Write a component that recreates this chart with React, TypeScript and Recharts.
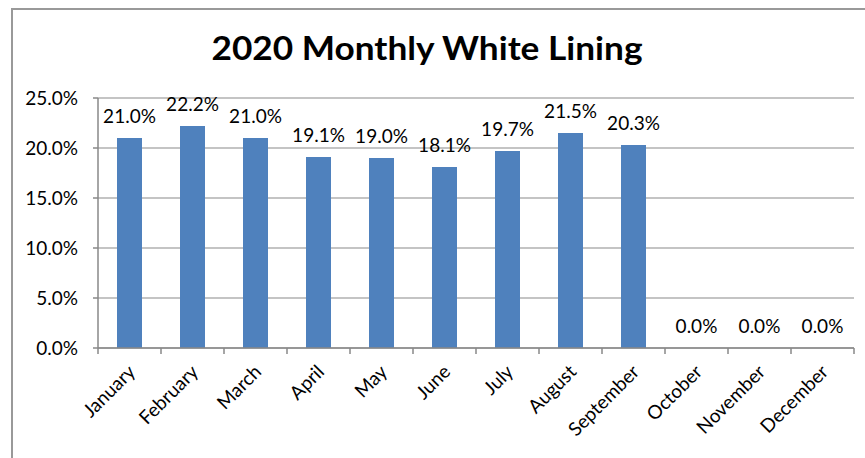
import React from 'react';
import { ComposedChart, Bar, Line, XAxis, YAxis, CartesianGrid, LabelList } from 'recharts';

const months = ['January', 'February', 'March', 'April', 'May', 'June', 'July', 'August', 'September', 'October', 'November', 'December'];
const whiteLining = [0.21, 0.222, 0.21, 0.191, 0.19, 0.181, 0.197, 0.215, 0.203, 0, 0, 0];
const yTicks = [0, 0.05, 0.1, 0.15, 0.2, 0.25];
const title = '2020 Monthly White Lining';

const data = months.map((m, i) => ({ month: m, value: whiteLining[i] }));

const FONT = 'Lato, "Open Sans", sans-serif';
const GRAY = '#898989';
const FS = 19;
const pct = (v: number) => (v * 100).toFixed(1) + '%';

const MonthTick = (props: any) => {
  const { x, y, payload } = props;
  const half = payload && payload.offset ? payload.offset : 0;
  const isLast = payload.value === months[months.length - 1];
  const ax = x + 7;
  const ay = y + 25;
  return (
    <g>
      <line x1={x - half} x2={x - half} y1={y} y2={y + 6} stroke={GRAY} strokeWidth={1.5} />
      {isLast && <line x1={x + half} x2={x + half} y1={y} y2={y + 6} stroke={GRAY} strokeWidth={1.5} />}
      <text
        x={ax}
        y={ay}
        textAnchor="end"
        transform={`rotate(-45, ${ax}, ${ay})`}
        fontFamily={FONT}
        fontSize={FS}
        fill="#000"
      >
        {payload.value}
      </text>
    </g>
  );
};

export default function App() {
  return (
    <div style={{ position: 'absolute', left: 0, top: 0, width: 865, height: 458, overflow: 'hidden', background: '#fff' }}>
      <div style={{ position: 'absolute', left: 11, top: 8, width: 900, height: 500, borderLeft: '2px solid #999', borderTop: '2px solid #999' }} />
      <svg style={{ position: 'absolute', left: 0, top: 0 }} width={865} height={90}>
        <text x={427} y={60} textAnchor="middle" fontFamily={FONT} fontWeight="bold" fontSize={32} fill="#000" textLength={431} lengthAdjust="spacingAndGlyphs">
          {title}
        </text>
      </svg>
      <div style={{ position: 'absolute', left: 0, top: 0 }}>
        <ComposedChart width={865} height={458} data={data} margin={{ top: 98, right: 11, left: 0, bottom: 0 }}>
          <CartesianGrid vertical={false} stroke={GRAY} strokeWidth={1.2} />
          <XAxis
            dataKey="month"
            height={110}
            interval={0}
            tickSize={0}
            tickMargin={0}
            tickLine={false}
            axisLine={{ stroke: GRAY, strokeWidth: 1.5 }}
            tick={<MonthTick />}
          />
          <YAxis
            width={98}
            domain={[0, 0.25]}
            ticks={yTicks}
            tickFormatter={pct}
            tickSize={5}
            tickMargin={15}
            tickLine={{ stroke: GRAY, strokeWidth: 1.5 }}
            axisLine={{ stroke: GRAY, strokeWidth: 1.5 }}
            tick={{ fontFamily: FONT, fontSize: FS, fill: '#000' }}
          />
          <Bar dataKey="value" fill="#4F81BD" barSize={25} isAnimationActive={false} />
          <Line dataKey="value" stroke="none" dot={false} activeDot={false} isAnimationActive={false}>
            <LabelList dataKey="value" position="top" offset={15} formatter={(v: any) => pct(Number(v))} fontFamily={FONT} fontSize={FS} fill="#000" />
          </Line>
        </ComposedChart>
      </div>
    </div>
  );
}
